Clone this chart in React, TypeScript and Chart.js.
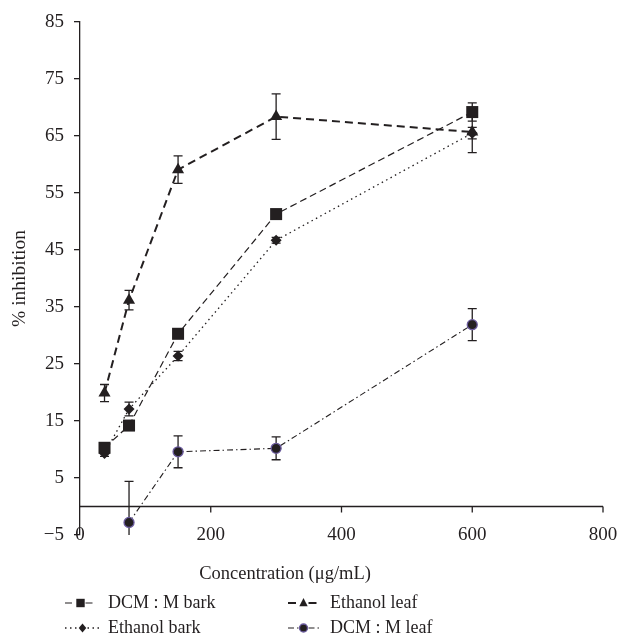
import React, { useEffect, useRef } from "react";
import { Chart, registerables } from "chart.js";

Chart.register(...registerables);

// ---- data ----
const concentrations = [37.5, 75, 150, 300, 600];
const dcmBark = [10.3, 14.2, 30.3, 51.3, 69.2];
const dcmBarkErr = [0.6, 0.8, 0.7, 0.6, 1.6];
const ethanolLeaf = [19.9, 36.2, 59.1, 68.4, 65.7];
const ethanolLeafErr = [1.5, 1.7, 2.4, 4.0, 3.6];
const ethanolBark = [9.3, 17.1, 26.4, 46.7, 65.5];
const ethanolBarkErr = [0.5, 1.2, 0.8, 0.5, 1.0];
const dcmLeafConc = [75, 150, 300, 600];
const dcmLeaf = [-2.8, 9.6, 10.2, 31.9];
const dcmLeafErr = [7.2, 2.8, 2.0, 2.8];
const xTickValues = [0, 200, 400, 600, 800];
const seriesLabels = ["DCM : M bark", "Ethanol bark", "Ethanol leaf", "DCM : M leaf"];
const xTitle = "Concentration (\u03bcg/mL)";
const yTitle = "% inhibition";

const FONT = '"Liberation Serif", "DejaVu Serif", serif';
const INK = "#231f20";
const PURPLE = "#6b5b9e";

type Pt = { x: number; y: number };
const toPts = (xs: number[], ys: number[]): Pt[] => xs.map((x, i) => ({ x, y: ys[i] }));

function drawMarker(ctx: CanvasRenderingContext2D, style: string, x: number, y: number, s: number) {
  ctx.save();
  ctx.fillStyle = INK;
  ctx.beginPath();
  if (style === "rect") {
    ctx.rect(x - s, y - s, 2 * s, 2 * s);
    ctx.fill();
  } else if (style === "triangle") {
    ctx.moveTo(x, y - s * 1.2);
    ctx.lineTo(x + s, y + s * 0.8);
    ctx.lineTo(x - s, y + s * 0.8);
    ctx.closePath();
    ctx.fill();
  } else if (style === "rectRot") {
    ctx.moveTo(x, y - s * 1.1);
    ctx.lineTo(x + s * 0.9, y);
    ctx.lineTo(x, y + s * 1.1);
    ctx.lineTo(x - s * 0.9, y);
    ctx.closePath();
    ctx.fill();
  } else {
    ctx.arc(x, y, s, 0, Math.PI * 2);
    ctx.fill();
    ctx.strokeStyle = PURPLE;
    ctx.lineWidth = 1.3;
    ctx.stroke();
  }
  ctx.restore();
}

const decorPlugin = {
  id: "decor",
  beforeDatasetsDraw(chart: any) {
    const { ctx, chartArea, scales } = chart;
    const xs = scales.x;
    const ys = scales.y;
    // x axis line at y = 0
    const y0 = ys.getPixelForValue(0);
    ctx.save();
    ctx.strokeStyle = INK;
    ctx.lineWidth = 1.3;
    ctx.beginPath();
    ctx.moveTo(chartArea.left, y0);
    ctx.lineTo(chartArea.right, y0);
    xTickValues.forEach((t) => {
      if (t === 0) return;
      const px = xs.getPixelForValue(t);
      ctx.moveTo(px, y0);
      ctx.lineTo(px, y0 + 6);
    });
    ctx.stroke();
    ctx.restore();

    // error bars
    ctx.save();
    ctx.beginPath();
    ctx.rect(chartArea.left, chartArea.top - 2, chartArea.right - chartArea.left, chartArea.bottom - chartArea.top + 2);
    ctx.clip();
    ctx.strokeStyle = INK;
    ctx.lineWidth = 1.3;
    chart.data.datasets.forEach((ds: any) => {
      const errs: number[] = ds.errors;
      ds.data.forEach((p: Pt, i: number) => {
        const e = errs[i];
        const px = xs.getPixelForValue(p.x);
        const top = ys.getPixelForValue(p.y + e);
        const bot = ys.getPixelForValue(p.y - e);
        ctx.beginPath();
        ctx.moveTo(px, top);
        ctx.lineTo(px, bot);
        ctx.moveTo(px - 4.5, top);
        ctx.lineTo(px + 4.5, top);
        ctx.moveTo(px - 4.5, bot);
        ctx.lineTo(px + 4.5, bot);
        ctx.stroke();
      });
    });
    ctx.restore();
  },
  afterDraw(chart: any) {
    const { ctx, chartArea, scales } = chart;
    const xs = scales.x;
    ctx.save();
    ctx.fillStyle = INK;
    ctx.font = `19px ${FONT}`;
    // x tick labels
    ctx.textAlign = "center";
    ctx.textBaseline = "middle";
    xTickValues.forEach((t) => {
      ctx.fillText(String(t), xs.getPixelForValue(t), chartArea.bottom);
    });
    // x title
    ctx.font = `18.5px ${FONT}`;
    ctx.fillText(xTitle, 285, 574);
    // y title
    ctx.save();
    ctx.font = `19.5px ${FONT}`;
    ctx.translate(20, (chartArea.top + chartArea.bottom) / 2);
    ctx.rotate(-Math.PI / 2);
    ctx.fillText(yTitle, 0, 0);
    ctx.restore();

    // legend
    ctx.font = `18px ${FONT}`;
    const items = [
      { ds: 0, sx: 65, tx: 108, y: 603 },
      { ds: 2, sx: 288, tx: 330, y: 603 },
      { ds: 1, sx: 65, tx: 108, y: 628 },
      { ds: 3, sx: 288, tx: 330, y: 628 },
    ];
    items.forEach((it) => {
      const ds = chart.data.datasets[it.ds];
      const w = it.ds === 1 ? 35 : 31;
      const cx = it.sx + w / 2;
      ctx.save();
      ctx.strokeStyle = INK;
      ctx.lineWidth = ds.borderWidth;
      ctx.setLineDash(ds.borderDash);
      ctx.beginPath();
      ctx.moveTo(it.sx, it.y);
      ctx.lineTo(cx - 5, it.y);
      ctx.moveTo(cx + 5, it.y);
      ctx.lineTo(it.sx + w, it.y);
      ctx.stroke();
      ctx.restore();
      drawMarker(ctx, ds.pointStyle, cx, it.y, ds.pointStyle === "circle" ? 4 : 4.2);
      ctx.textAlign = "left";
      ctx.textBaseline = "middle";
      ctx.fillStyle = INK;
      ctx.fillText(ds.label, it.tx, it.y);
    });
    ctx.restore();
  },
};

export default function App() {
  const ref = useRef<HTMLCanvasElement | null>(null);

  useEffect(() => {
    document.body.style.margin = "0";
    const canvas = ref.current;
    if (!canvas) return;
    const chart = new Chart(canvas, {
      type: "line",
      data: {
        datasets: [
          {
            label: seriesLabels[0],
            data: toPts(concentrations, dcmBark),
            errors: dcmBarkErr,
            borderColor: INK,
            borderWidth: 1.2,
            borderDash: [7, 4],
            pointStyle: "rect",
            pointRadius: 8.5,
            pointBackgroundColor: INK,
            pointBorderColor: INK,
            pointBorderWidth: 0,
          } as any,
          {
            label: seriesLabels[1],
            data: toPts(concentrations, ethanolBark),
            errors: ethanolBarkErr,
            borderColor: INK,
            borderWidth: 1.3,
            borderDash: [1.5, 3.5],
            pointStyle: "rectRot",
            pointRadius: 5.5,
            pointBackgroundColor: INK,
            pointBorderColor: INK,
            pointBorderWidth: 0,
          } as any,
          {
            label: seriesLabels[2],
            data: toPts(concentrations, ethanolLeaf),
            errors: ethanolLeafErr,
            borderColor: INK,
            borderWidth: 2,
            borderDash: [8, 5],
            pointStyle: "triangle",
            pointRadius: 7,
            pointBackgroundColor: INK,
            pointBorderColor: INK,
            pointBorderWidth: 0,
          } as any,
          {
            label: seriesLabels[3],
            data: toPts(dcmLeafConc, dcmLeaf),
            errors: dcmLeafErr,
            borderColor: INK,
            borderWidth: 1.1,
            borderDash: [6, 3, 1.5, 3],
            pointStyle: "circle",
            pointRadius: 5,
            pointBackgroundColor: INK,
            pointBorderColor: PURPLE,
            pointBorderWidth: 1.3,
          } as any,
        ],
      },
      options: {
        responsive: false,
        animation: false,
        layout: { padding: { left: 0, right: 16, top: 22, bottom: 102 } },
        scales: {
          x: { type: "linear", min: 0, max: 800, display: false },
          y: {
            type: "linear",
            min: -5,
            max: 85,
            ticks: {
              stepSize: 10,
              padding: 10,
              color: INK,
              font: { family: FONT, size: 19 },
              callback: (v: any) => (v < 0 ? "\u2212" + Math.abs(v) : String(v)),
            },
            grid: { drawOnChartArea: false, drawTicks: true, tickLength: 6, color: INK, lineWidth: 1.3 },
            border: { display: true, color: INK, width: 1.3 },
            afterFit: (s: any) => {
              s.width = 80;
            },
          },
        },
        plugins: { legend: { display: false }, tooltip: { enabled: false } },
      },
      plugins: [decorPlugin],
    });
    return () => chart.destroy();
  }, []);

  return (
    <div style={{ width: 619, height: 637, background: "#fff" }}>
      <canvas ref={ref} width={619} height={637} style={{ display: "block" }} />
    </div>
  );
}
